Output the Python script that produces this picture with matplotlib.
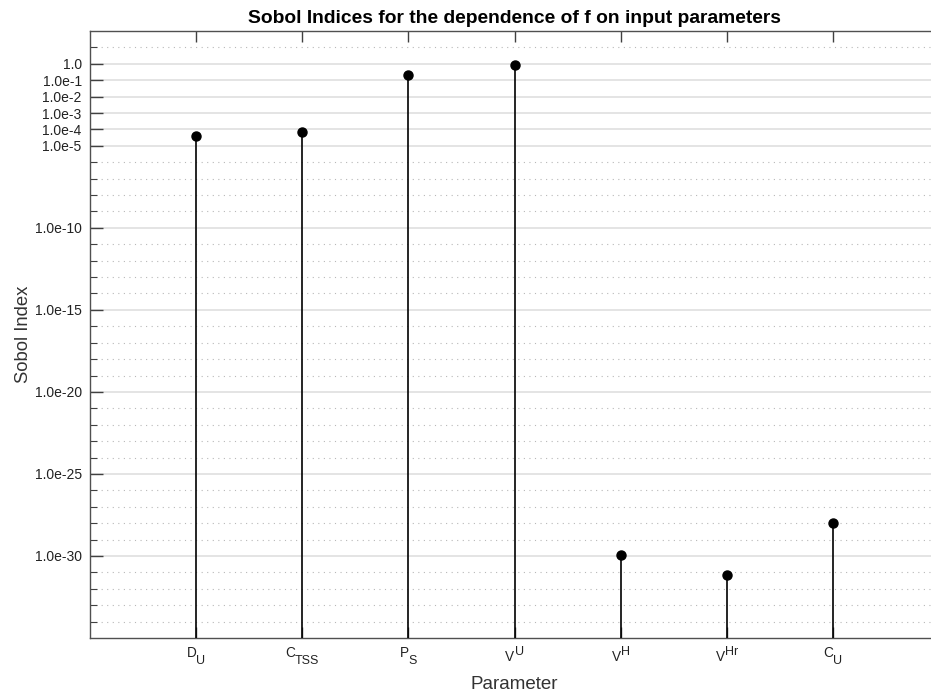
import numpy as np
import matplotlib
matplotlib.use("Agg")
import matplotlib.pyplot as plt
import matplotlib.transforms as mtransforms
from matplotlib.ticker import FixedLocator, FixedFormatter

plt.rcParams['font.family'] = ['Liberation Sans', 'DejaVu Sans']

# Parameters: base symbol, subscript, superscript
param_base = ['D', 'C', 'P', 'V', 'V', 'V', 'C']
param_sub = ['U', 'TSS', 'S', '', '', '', 'U']
param_sup = ['', '', '', 'U', 'H', 'Hr', '']
# Sobol index of each parameter
sobol_index = [4.1e-5, 6.9e-5, 0.20, 0.79, 1.15e-30, 7.2e-32, 9.7e-29]

# Labelled decades on the y axis and their texts
labelled_exponents = [0, -1, -2, -3, -4, -5, -10, -15, -20, -25, -30]
labelled_texts = ['1.0', '1.0e-1', '1.0e-2', '1.0e-3', '1.0e-4', '1.0e-5',
                  '1.0e-10', '1.0e-15', '1.0e-20', '1.0e-25', '1.0e-30']
y_min_exp, y_max_exp = -35, 2

DPI = 100
fig = plt.figure(figsize=(9.31, 6.98), dpi=DPI)
ax = fig.add_axes([90 / 931, 60 / 698, 849 / 931, 607 / 698])

x = np.arange(1, len(param_base) + 1)
ax.set_yscale('log')
ax.set_xlim(0, len(param_base) + 1)
ax.set_ylim(10.0 ** y_min_exp, 10.0 ** y_max_exp)

# Grid: solid at labelled decades, dotted at the rest
major_vals = [10.0 ** e for e in labelled_exponents]
minor_vals = [10.0 ** e for e in range(y_min_exp + 1, y_max_exp)
              if e not in labelled_exponents]
for v in major_vals:
    ax.axhline(v, color='#e2e2e2', lw=1.3, zorder=0)
for v in minor_vals:
    ax.axhline(v, color='#b8b8b8', lw=0.8, ls=(0, (1, 4)), zorder=0)

# Stems and markers
ax.vlines(x, 10.0 ** y_min_exp, sobol_index, color='black', lw=1.2, zorder=3)
ax.plot(x, sobol_index, 'o', color='black', markersize=6.5, zorder=4)

ax.yaxis.set_major_locator(FixedLocator(major_vals))
ax.yaxis.set_major_formatter(FixedFormatter(labelled_texts))
ax.yaxis.set_minor_locator(FixedLocator(minor_vals))
ax.yaxis.set_minor_formatter(FixedFormatter([]))

ax.set_xticks(x)
ax.set_xticklabels([''] * len(x))

ax.tick_params(axis='y', which='major', direction='in', length=9, width=1,
               color='#404040', labelsize=10, labelcolor='#222222', pad=6,
               right=False)
ax.tick_params(axis='y', which='minor', direction='in', length=5, width=0.8,
               color='#404040', right=False)
ax.tick_params(axis='x', which='major', direction='in', length=8, width=1,
               color='#404040', top=True)
ax.tick_params(axis='x', which='minor', bottom=False, top=False)

for side in ['left', 'bottom', 'top', 'right']:
    ax.spines[side].set_color('#505050')
    ax.spines[side].set_linewidth(1.0)

# Parameter names with real sub-/superscripts, centred under each tick
base_fs, script_fs = 9.8, 9.0
renderer = fig.canvas.get_renderer()
xtrans = ax.get_xaxis_transform()
for xi, b, sb, sp in zip(x, param_base, param_sub, param_sup):
    script = sb or sp
    if sb:
        base_drop, script_drop = 19, 26
    else:
        base_drop, script_drop = 23, 17
    tb = ax.text(xi, 0, b, transform=xtrans, fontsize=base_fs,
                 color='#222222', ha='left', va='baseline')
    ts = ax.text(xi, 0, script, transform=xtrans, fontsize=script_fs,
                 color='#222222', ha='left', va='baseline')
    wb = tb.get_window_extent(renderer).width
    ws = ts.get_window_extent(renderer).width
    left = -(wb + ws) / 2
    tb.set_transform(xtrans + mtransforms.ScaledTranslation(
        left / DPI, -base_drop / DPI, fig.dpi_scale_trans))
    ts.set_transform(xtrans + mtransforms.ScaledTranslation(
        (left + wb) / DPI, -script_drop / DPI, fig.dpi_scale_trans))

ax.set_xlabel('Parameter', fontsize=13.5, color='#333333', va='baseline')
ax.xaxis.set_label_coords(0.5, (638 - 689) / 607)
ax.set_ylabel('Sobol Index', fontsize=13.3, color='#333333', va='center',
              ha='center')
ax.yaxis.set_label_coords((24 - 90) / 849, 0.5)
ax.set_title('Sobol Indices for the dependence of f on input parameters',
             fontsize=13.9, fontweight='bold', pad=6)

fig.savefig('out.png', dpi=DPI)
